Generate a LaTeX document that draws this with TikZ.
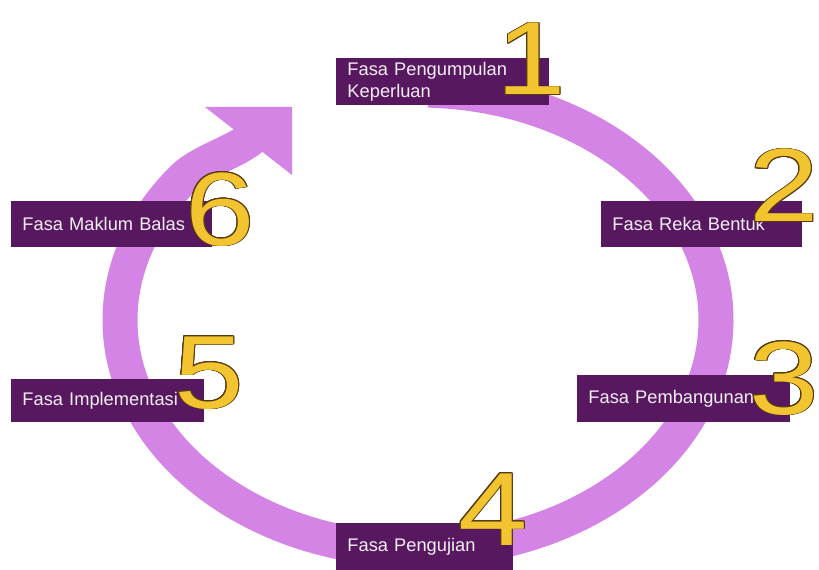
\documentclass[tikz,border=0pt]{standalone}
\usepackage{fontspec}
\setmainfont{Liberation Sans}
\newfontfamily\numfont[FakeStretch=1.2]{Liberation Sans}
\usepackage{contour}
\contourlength{0.7pt}
\definecolor{ringlilac}{RGB}{212,132,228}
\definecolor{stagepurple}{RGB}{88,24,96}
\definecolor{stagetext}{RGB}{242,238,244}
\definecolor{numgold}{RGB}{242,196,48}
\definecolor{numedge}{RGB}{88,58,18}
\tikzset{
  ring/.style={draw=ringlilac, line width=0.875cm, line cap=butt},
  stage/.style={fill=stagepurple, text=stagetext, font=\fontsize{13}{15}\selectfont, anchor=north west, inner xsep=0.28cm, inner ysep=0pt, align=left},
  num/.style={font=\numfont\fontsize{74}{74}\selectfont, text=numgold, inner sep=0pt, anchor=base}
}
\begin{document}
\begin{tikzpicture}[x=0.025cm, y=-0.025cm]
	\useasboundingbox (0, 0) rectangle (819, 570);
	\fill[white] (0, 0) rectangle (819, 570);
	
	% Kitaran
	\coordinate (pusat) at (418, 320);
	\draw[ring] (pusat) ++(-88:298 and 230) arc[start angle=-88, end angle=218, x radius=298, y radius=230] .. controls (201, 161) and (234, 153) .. (253, 137);
	\fill[ringlilac] (205, 107) -- (292, 107) -- (292, 175) -- cycle;
	
	% Fasa
	\node[stage, text width=4.765cm, minimum height=1.175cm] (f1) at (336, 58) {Fasa Pengumpulan\\Keperluan};
	\node[stage, text width=4.465cm, minimum height=1.15cm] (f2) at (601, 201) {Fasa Reka Bentuk};
	\node[stage, text width=4.765cm, minimum height=1.175cm] (f3) at (577, 375) {Fasa Pembangunan};
	\node[stage, text width=3.865cm, minimum height=1.175cm] (f4) at (336, 523) {Fasa Pengujian};
	\node[stage, text width=4.265cm, minimum height=1.075cm] (f5) at (11, 379) {Fasa Implementasi};
	\node[stage, text width=4.465cm, minimum height=1.15cm] (f6) at (11, 201) {Fasa Maklum Balas};
	
	% Nombor
	\node[num] (n1) at (531, 95) {\contour{numedge}{1}};
	\node[num] (n2) at (784, 222) {\contour{numedge}{2}};
	\node[num] (n3) at (784, 414) {\contour{numedge}{3}};
	\node[num] (n4) at (493, 545) {\contour{numedge}{4}};
	\node[num] (n5) at (209, 408) {\contour{numedge}{5}};
	\node[num] (n6) at (220, 245) {\contour{numedge}{6}};
\end{tikzpicture}
\end{document}
